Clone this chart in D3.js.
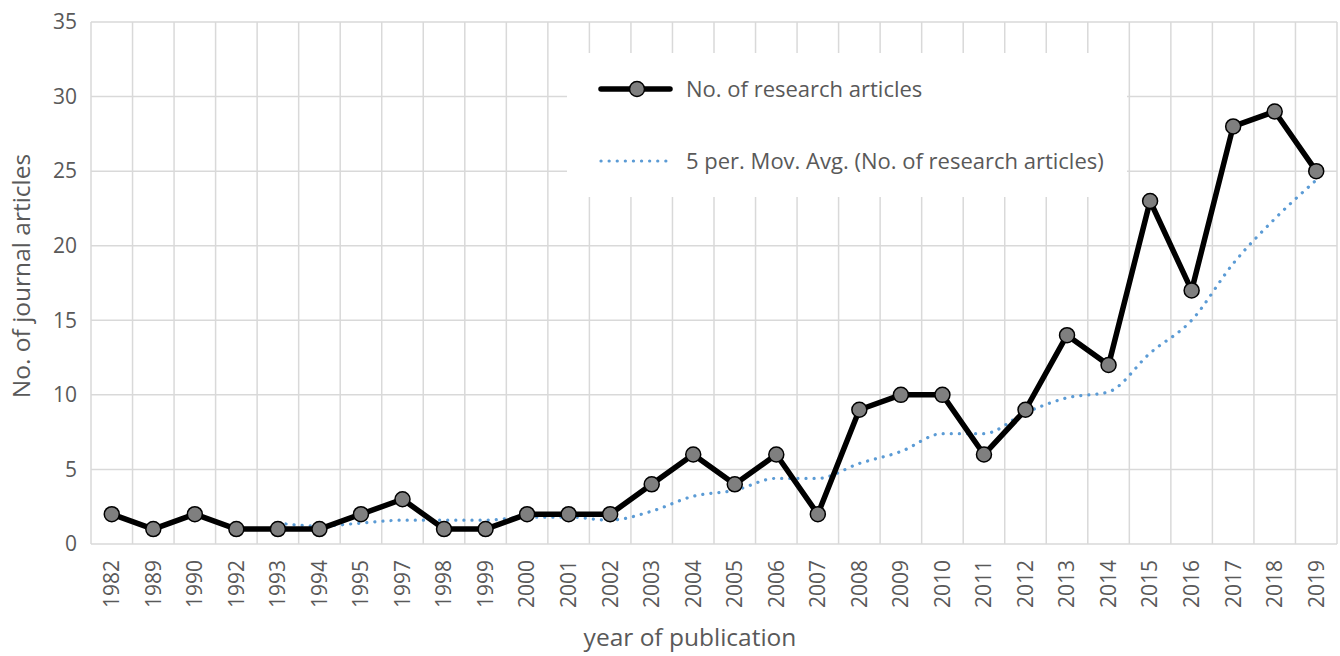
<!DOCTYPE html>
<html>
<head>
<meta charset="utf-8">
<script src="https://cdn.jsdelivr.net/npm/d3@7"></script>
<style>
  html, body { margin: 0; padding: 0; background: #fff; }
  svg { display: block; font-family: "Open Sans", "Liberation Sans", sans-serif; }
</style>
</head>
<body>
<svg id="chart" width="1340" height="656"></svg>
<script>
const years = ["1982","1989","1990","1992","1993","1994","1995","1997","1998","1999","2000","2001","2002","2003","2004","2005","2006","2007","2008","2009","2010","2011","2012","2013","2014","2015","2016","2017","2018","2019"];
const articles = [2,1,2,1,1,1,2,3,1,1,2,2,2,4,6,4,6,2,9,10,10,6,9,14,12,23,17,28,29,25];
const movAvgYears = ["1993","1994","1995","1997","1998","1999","2000","2001","2002","2003","2004","2005","2006","2007","2008","2009","2010","2011","2012","2013","2014","2015","2016","2017","2018","2019"];
const movAvg = [1.4,1.2,1.4,1.6,1.6,1.6,1.8,1.8,1.6,2.2,3.2,3.6,4.4,4.4,5.4,6.2,7.4,7.4,8.8,9.8,10.2,12.8,15,18.8,21.8,24.4];
const yTicks = [0,5,10,15,20,25,30,35];
const seriesNames = ["No. of research articles", "5 per. Mov. Avg. (No. of research articles)"];

const svg = d3.select("#chart");
const pLeft = 91, pRight = 1337, pTop = 22, pBottom = 544;

const x = d3.scaleBand().domain(years).range([pLeft, pRight]).paddingInner(0).paddingOuter(0);
const y = d3.scaleLinear().domain([0, 35]).range([pBottom, pTop]);
const cx = d => x(d) + x.bandwidth() / 2;

const grid = svg.append("g");
grid.selectAll("line.h").data(yTicks).join("line")
  .attr("x1", pLeft).attr("x2", pRight)
  .attr("y1", d => y(d)).attr("y2", d => y(d))
  .attr("stroke", "#d9d9d9").attr("stroke-width", 1.5);
const bounds = years.map(d => x(d)).concat([pRight]);
grid.selectAll("line.v").data(bounds).join("line")
  .attr("x1", d => d).attr("x2", d => d)
  .attr("y1", pTop).attr("y2", pBottom)
  .attr("stroke", "#d9d9d9").attr("stroke-width", 1.5);

// Y axis labels
const yAxis = d3.axisLeft(y).tickValues(yTicks).tickSize(0).tickPadding(0);
const yg = svg.append("g").attr("transform", `translate(${pLeft - 14},0)`).call(yAxis);
yg.select(".domain").remove();
yg.selectAll("text").attr("font-size", 21).attr("fill", "#595959")
  .attr("font-family", "'Open Sans', sans-serif");

// X axis labels
const xAxis = d3.axisBottom(x).tickSize(0).tickPadding(0);
const xg = svg.append("g").attr("transform", `translate(0,${pBottom})`).call(xAxis);
xg.select(".domain").remove();
xg.selectAll("text")
  .attr("font-size", 21).attr("fill", "#595959")
  .attr("font-family", "'Open Sans', sans-serif")
  .attr("text-anchor", "end")
  .attr("transform", "translate(0,16) rotate(-90)")
  .attr("x", 0).attr("y", 0).attr("dy", "0.35em");

// Axis titles
svg.append("text")
  .attr("transform", `translate(30,276) rotate(-90)`)
  .attr("text-anchor", "middle")
  .attr("font-size", 24.5).attr("fill", "#595959")
  .text("No. of journal articles");
svg.append("text")
  .attr("x", 690).attr("y", 646)
  .attr("text-anchor", "middle")
  .attr("font-size", 24.5).attr("fill", "#595959")
  .text("year of publication");

// Moving average line
const maData = movAvgYears.map((d, i) => ({ year: d, v: movAvg[i] }));
svg.append("path")
  .datum(maData)
  .attr("fill", "none")
  .attr("stroke", "#5b9bd5")
  .attr("stroke-width", 3.2)
  .attr("stroke-linecap", "round")
  .attr("stroke-dasharray", "0.1 8")
  .attr("d", d3.line().x(d => cx(d.year)).y(d => y(d.v)).curve(d3.curveMonotoneX));

// Main series
const data = years.map((d, i) => ({ year: d, v: articles[i] }));
svg.append("path")
  .datum(data)
  .attr("fill", "none")
  .attr("stroke", "#000")
  .attr("stroke-width", 5.5)
  .attr("stroke-linejoin", "round")
  .attr("d", d3.line().x(d => cx(d.year)).y(d => y(d.v)));
svg.append("g").selectAll("circle").data(data).join("circle")
  .attr("cx", d => cx(d.year)).attr("cy", d => y(d.v)).attr("r", 7.5)
  .attr("fill", "#7f7f7f").attr("stroke", "#000").attr("stroke-width", 1.5);

// Legend
const lg = svg.append("g");
lg.append("rect").attr("x", 567).attr("y", 53).attr("width", 560).attr("height", 144).attr("fill", "#fff");
lg.append("line").attr("x1", 601).attr("x2", 670).attr("y1", 89).attr("y2", 89)
  .attr("stroke", "#000").attr("stroke-width", 5.5).attr("stroke-linecap", "round");
lg.append("circle").attr("cx", 637).attr("cy", 89).attr("r", 7.5)
  .attr("fill", "#7f7f7f").attr("stroke", "#000").attr("stroke-width", 1.5);
lg.append("text").attr("x", 686).attr("y", 89).attr("dy", "0.35em")
  .attr("font-size", 22).attr("fill", "#595959").text(seriesNames[0]);
lg.append("line").attr("x1", 601).attr("x2", 672).attr("y1", 161).attr("y2", 161)
  .attr("stroke", "#5b9bd5").attr("stroke-width", 3.2).attr("stroke-linecap", "round")
  .attr("stroke-dasharray", "0.1 8");
lg.append("text").attr("x", 686).attr("y", 161).attr("dy", "0.35em")
  .attr("font-size", 22).attr("fill", "#595959").text(seriesNames[1]);
</script>
</body>
</html>
